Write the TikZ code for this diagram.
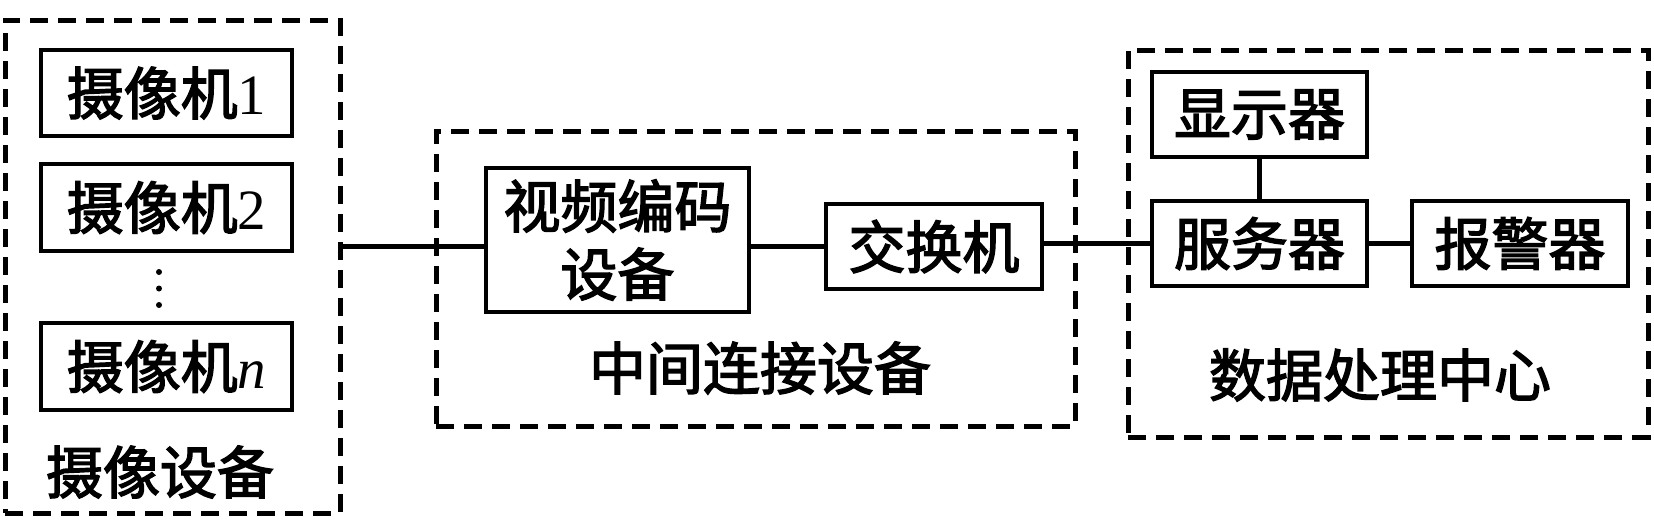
\documentclass[tikz,border=0pt]{standalone}
\usepackage{fontspec}
\setmainfont{Liberation Serif}
\newfontfamily\cjk[FakeBold=2.5]{Noto Sans CJK SC}
\begin{document}
\begin{tikzpicture}[x=1pt,y=-1pt,
  box/.style={draw, line width=4.5pt, inner sep=0pt, align=center,
    font=\cjk\fontsize{57}{68}\selectfont},
  dbox/.style={draw, line width=5pt, dash pattern=on 18pt off 10pt, inner sep=0pt},
  lab/.style={inner sep=0pt, font=\cjk\fontsize{57}{68}\selectfont},
  conn/.style={line width=4.5pt}]
\useasboundingbox (0,0) rectangle (1654,520);
% group frames
\node[dbox, minimum width=335pt, minimum height=493pt] (lbox) at (172.5,266.5) {};
\node[dbox, minimum width=639pt, minimum height=295pt] (mbox) at (755.5,278.5) {};
\node[dbox, minimum width=520pt, minimum height=387pt] (rbox) at (1388,243.5) {};
% cameras
\node[box, minimum width=251pt, minimum height=86pt] (cam1) at (166.5,93) {摄像机{\rmfamily 1}};
\node[box, minimum width=251pt, minimum height=87pt] (cam2) at (166.5,207.5) {摄像机{\rmfamily 2}};
\node[box, minimum width=251pt, minimum height=87pt] (camn) at (166.5,366.5) {摄像机{\rmfamily\itshape n}};
\fill (159,272) circle (3pt) (159,288.5) circle (3pt) (159,305) circle (3pt);
\node[lab] (llab) at (160,472) {摄像设备};
% middle
\node[box, minimum width=263pt, minimum height=144pt] (enc) at (617.5,240) {视频编码\\设备};
\node[box, minimum width=216pt, minimum height=85pt] (sw) at (934,246.5) {交换机};
\node[lab] (mlab) at (760,368) {中间连接设备};
% right
\node[box, minimum width=215pt, minimum height=85pt] (disp) at (1259.5,114.5) {显示器};
\node[box, minimum width=215pt, minimum height=85pt] (srv) at (1259.5,243.5) {服务器};
\node[box, minimum width=216pt, minimum height=85pt] (alm) at (1520,243.5) {报警器};
\node[lab] (rlab) at (1380,375) {数据处理中心};
% connectors
\draw[conn] (lbox.east |- sw) -- (enc.west |- sw);
\draw[conn] (enc.east |- sw) -- (sw.west);
\draw[conn] (sw.east |- srv) -- (srv.west);
\draw[conn] (srv.east) -- (alm.west);
\draw[conn] (disp.south) -- (srv.north);
\end{tikzpicture}
\end{document}
